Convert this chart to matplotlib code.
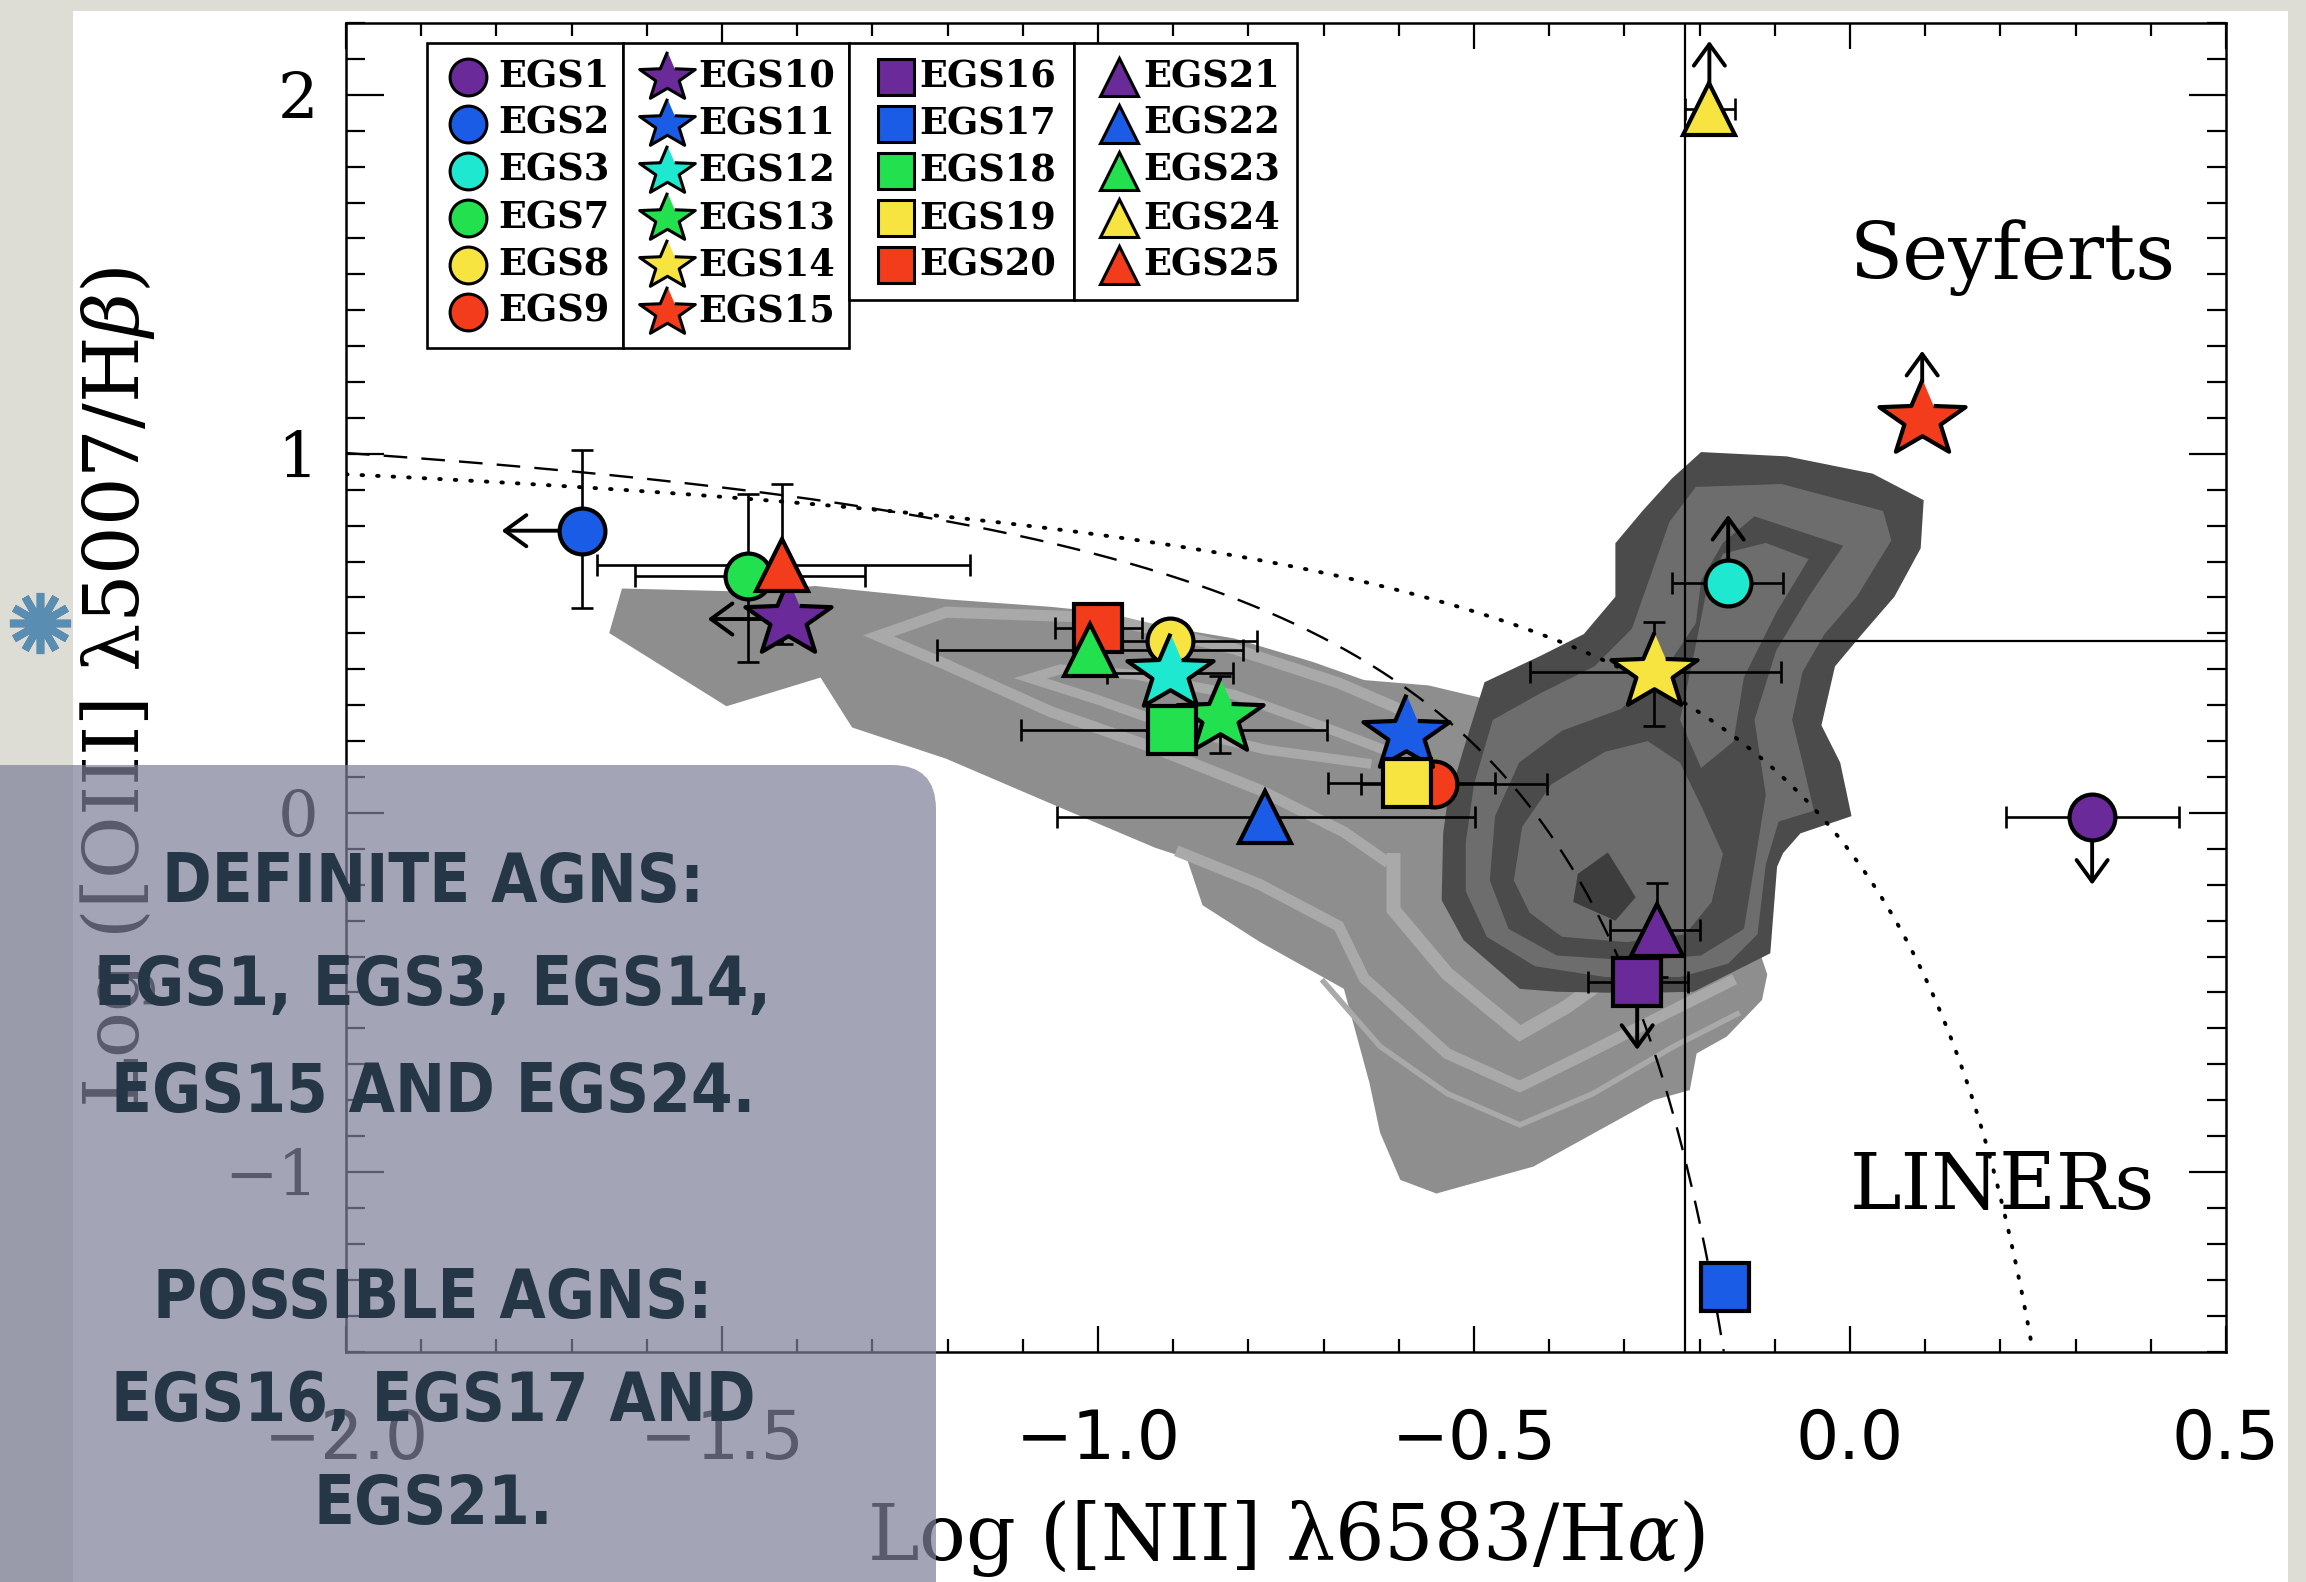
import numpy as np
import matplotlib
matplotlib.use('Agg')
import matplotlib.pyplot as plt
from matplotlib.patches import Rectangle, FancyBboxPatch
from matplotlib.ticker import MultipleLocator
from matplotlib import font_manager as fm
from matplotlib.textpath import TextPath

plt.rcParams['mathtext.fontset'] = 'dejavuserif'

# ---------------------------------------------------------------- data
PURPLE, BLUE, CYAN, GREEN, YELLOW, RED = ('#6a2a9a', '#1a5ce6', '#1ee8cf',
                                          '#22e04e', '#f7e440', '#f23c1c')

names = ['EGS1', 'EGS2', 'EGS3', 'EGS7', 'EGS8', 'EGS9',
         'EGS10', 'EGS11', 'EGS12', 'EGS13', 'EGS14', 'EGS15',
         'EGS16', 'EGS17', 'EGS18', 'EGS19', 'EGS20',
         'EGS21', 'EGS22', 'EGS23', 'EGS24', 'EGS25']
shapes = ['o'] * 6 + ['star'] * 6 + ['s'] * 5 + ['^'] * 5
colors = [PURPLE, BLUE, CYAN, GREEN, YELLOW, RED,
          PURPLE, BLUE, CYAN, GREEN, YELLOW, RED,
          PURPLE, BLUE, GREEN, YELLOW, RED,
          PURPLE, BLUE, GREEN, YELLOW, RED]

x_vals = [0.322, -1.686, -0.162, -1.465, -0.904, -0.553,
          -1.412, -0.590, -0.904, -0.838, -0.261, 0.096,
          -0.283, -0.166, -0.902, -0.589, -1.000,
          -0.257, -0.778, -1.010, -0.187, -1.420]
y_vals = [-0.010, 0.786, 0.640, 0.660, 0.480, 0.080,
          0.540, 0.220, 0.389, 0.268, 0.393, 1.097,
          -0.470, -1.320, 0.231, 0.083, 0.514,
          -0.326, -0.010, 0.455, 1.960, 0.690]
nan = np.nan
x_lo = [0.207, nan, -0.237, -1.616, -1.000, -0.650,
        nan, nan, -0.988, nan, -0.425, nan,
        -0.348, nan, -1.102, -0.694, -1.057,
        -0.319, -1.055, -1.214, -0.219, -1.666]
x_hi = [0.438, nan, -0.089, -1.310, -0.789, -0.403,
        nan, nan, -0.820, nan, -0.092, nan,
        -0.215, nan, -0.696, -0.472, -0.942,
        -0.199, -0.499, -0.807, -0.153, -1.170]
y_lo = [nan, 0.571, nan, 0.420, nan, nan,
        nan, nan, nan, 0.166, 0.242, nan,
        nan, nan, nan, nan, nan,
        -0.456, nan, nan, nan, 0.470]
y_hi = [nan, 1.010, nan, 0.889, nan, nan,
        nan, nan, nan, 0.380, 0.532, nan,
        nan, nan, nan, nan, nan,
        -0.196, nan, nan, nan, 0.917]
limits = ['down', 'left', 'up', None, None, None,
          'left', None, None, None, None, 'up',
          'down', 'down', None, None, None,
          None, None, None, 'up', None]

# classification lines
KAUFF_A, KAUFF_B, KAUFF_C = 0.61, 0.05, 1.30     # Kauffmann et al. 2003
KEWL_A, KEWL_B, KEWL_C = 0.61, 0.47, 1.19        # Kewley et al. 2001
AGN_SPLIT_X = -0.22
SEY_LINER_Y = 0.48

# SDSS density contours (polygons in data units)
SF0_X = [-1.650, -1.633, -1.480, -1.376, -1.202, -1.063, -0.993, -0.924, -0.819, -0.715,
         -0.646, -0.560, -0.450, -0.300, -0.150, -0.110, -0.117, -0.164, -0.204, -0.213,
         -0.261, -0.421, -0.550, -0.598, -0.625, -0.639, -0.673, -0.785, -0.861, -0.882,
         -0.924, -1.056, -1.202, -1.327, -1.369, -1.494]
SF0_Y = [0.501, 0.625, 0.617, 0.632, 0.595, 0.574, 0.559, 0.523, 0.486, 0.421,
         0.370, 0.355, 0.300, 0.100, -0.200, -0.450, -0.521, -0.623, -0.670, -0.772,
         -0.800, -0.985, -1.060, -1.022, -0.890, -0.752, -0.490, -0.359, -0.257, -0.126,
         -0.097, 0.020, 0.151, 0.238, 0.377, 0.297]
BAND_A_X = [-0.600, -0.680, -0.819, -0.993, -1.202, -1.292, -1.202, -1.063, -0.924, -0.785, -0.673, -0.620]
BAND_A_Y = [0.290, 0.362, 0.457, 0.544, 0.559, 0.493, 0.413, 0.282, 0.180, 0.064, -0.053, -0.130]
BAND_B_X = [-0.600, -0.700, -0.820, -0.950, -1.050, -1.090, -1.000, -0.887, -0.776, -0.643]
BAND_B_Y = [0.160, 0.240, 0.330, 0.385, 0.400, 0.375, 0.315, 0.231, 0.176, 0.138]
BAND_C_X = [-0.889, -0.785, -0.680, -0.646, -0.625, -0.536, -0.439, -0.350, -0.244, -0.160]
BAND_C_Y = [-0.111, -0.199, -0.315, -0.461, -0.500, -0.670, -0.762, -0.670, -0.558, -0.470]
BAND_D_X = [-0.700, -0.625, -0.536, -0.439, -0.341, -0.235, -0.150]
BAND_D_Y = [-0.470, -0.650, -0.781, -0.869, -0.781, -0.651, -0.560]
BAND_E_X = [-0.607, -0.607, -0.536, -0.439, -0.377, -0.330]
BAND_E_Y = [-0.131, -0.270, -0.447, -0.614, -0.540, -0.470]

AGN0_X = [-0.237, -0.198, -0.084, 0.030, 0.098, 0.094, 0.059, 0.016, -0.020, -0.038,
          -0.013, 0.002, -0.066, -0.089, -0.097, -0.106, -0.208, -0.290, -0.390, -0.439,
          -0.514, -0.543, -0.541, -0.536, -0.515, -0.486, -0.411, -0.354, -0.312, -0.312, -0.276]
AGN0_Y = [0.931, 1.005, 0.993, 0.945, 0.871, 0.737, 0.602, 0.498, 0.408, 0.244,
          0.140, -0.009, -0.057, -0.112, -0.150, -0.391, -0.498, -0.502, -0.498, -0.490,
          -0.354, -0.243, -0.057, 0.020, 0.170, 0.364, 0.438, 0.498, 0.602, 0.751, 0.841]
AGN1_X = [-0.205, -0.091, 0.044, 0.055, 0.009, -0.034, -0.063, -0.077, -0.063, -0.048,
          -0.095, -0.112, -0.123, -0.162, -0.226, -0.326, -0.419, -0.483, -0.511, -0.511,
          -0.500, -0.475, -0.411, -0.340, -0.290, -0.265, -0.240]
AGN1_Y = [0.908, 0.916, 0.841, 0.759, 0.602, 0.498, 0.393, 0.259, 0.140, 0.006,
          -0.024, -0.144, -0.338, -0.420, -0.457, -0.457, -0.427, -0.345, -0.218, -0.084,
          0.080, 0.259, 0.334, 0.408, 0.513, 0.662, 0.811]
AGN2_X = [-0.169, -0.127, -0.009, -0.055, -0.098, -0.127, -0.112, -0.127, -0.141, -0.198,
          -0.283, -0.390, -0.454, -0.479, -0.472, -0.440, -0.383, -0.305, -0.248, -0.205, -0.198]
AGN2_Y = [0.752, 0.826, 0.744, 0.602, 0.453, 0.259, 0.050, -0.144, -0.323, -0.397,
          -0.412, -0.397, -0.323, -0.188, -0.009, 0.140, 0.229, 0.289, 0.393, 0.528, 0.647]
AGN3_X = [-0.447, -0.436, -0.397, -0.326, -0.269, -0.226, -0.198, -0.169, -0.184, -0.219,
          -0.297, -0.383, -0.426]
AGN3_Y = [-0.188, -0.039, 0.080, 0.170, 0.200, 0.140, 0.020, -0.114, -0.248, -0.338,
          -0.360, -0.345, -0.278]
AGN_UP_X = [-0.169, -0.112, -0.055, -0.098, -0.141, -0.155, -0.198, -0.226, -0.205, -0.191]
AGN_UP_Y = [0.722, 0.752, 0.707, 0.558, 0.378, 0.199, 0.125, 0.259, 0.468, 0.617]
AGN4_X = [-0.322, -0.285, -0.312, -0.368, -0.362]
AGN4_Y = [-0.110, -0.235, -0.300, -0.248, -0.170]

XTICKS = [-2.0, -1.5, -1.0, -0.5, 0.0, 0.5]
XTICKLABELS = ['\u22122.0', '\u22121.5', '\u22121.0', '\u22120.5', '0.0', '0.5']
YTICKS = [-1, 0, 1, 2]
YTICKLABELS = ['\u22121', '0', '1', '2']
XLABEL = 'Log ([NII] \u03bb6583/H$\\alpha$)'
YLABEL = 'Log ([OIII] \u03bb5007/H$\\beta$)'

NOTE_LINES = ['DEFINITE AGNS:', 'EGS1, EGS3, EGS14,', 'EGS15 AND EGS24.',
              'POSSIBLE AGNS:', 'EGS16, EGS17 AND', 'EGS21.']


# ---------------------------------------------------------------- fonts
def _weight(f):
    try:
        return int(f.weight)
    except (TypeError, ValueError):
        return {'bold': 700, 'heavy': 800, 'black': 900, 'extra bold': 800,
                'semibold': 600, 'demibold': 600}.get(str(f.weight).lower(), 400)


def narrow_bold_font():
    best = None
    for f in fm.fontManager.ttflist:
        key = (f.name + ' ' + str(f.stretch) + ' ' + f.fname).lower()
        if not ('narrow' in key or 'condensed' in key):
            continue
        if str(f.style).lower() != 'normal':
            continue
        score = -abs(_weight(f) - 750)
        if best is None or score > best[0]:
            best = (score, f)
    if best is None:
        return fm.FontProperties(family=['Roboto', 'DejaVu Sans'], weight='bold')
    return fm.FontProperties(fname=best[1].fname)


NOTE_FP = narrow_bold_font()
_probe = NOTE_FP.copy()
_probe.set_size(60)
_w = TextPath((0, 0), NOTE_LINES[1], prop=_probe).get_extents().width * 100 / 72
NOTE_SIZE = min(63, 60 * 665 / _w)
NOTE_FP.set_size(NOTE_SIZE)

# ---------------------------------------------------------------- figure
W, H = 2306, 1582
fig = plt.figure(figsize=(W / 100, H / 100), dpi=100)
fig.patch.set_facecolor('#dddcd5')

bg = fig.add_axes([0, 0, 1, 1], zorder=0)
bg.set_xlim(0, W); bg.set_ylim(H, 0); bg.axis('off')
bg.add_patch(Rectangle((73, 11), 2288 - 73, H, facecolor='white', edgecolor='none'))

ax = fig.add_axes([346 / W, 1 - 1351.5 / H, 1880 / W, 1328.5 / H], zorder=1)
ax.set_facecolor('white')
ax.set_xlim(-2.0, 0.5)
ax.set_ylim(-1.5, 2.2)

SF_MID, SF_LIGHT = '#8e8e8e', '#a9a9a9'
AGN_DARK, AGN_MID, AGN_DEEP = '#4b4b4b', '#6d6d6d', '#3d3d3d'

ax.fill(SF0_X, SF0_Y, color=SF_MID, lw=0, zorder=1)
for bx, by, lw in [(BAND_A_X, BAND_A_Y, 8), (BAND_B_X, BAND_B_Y, 7),
                   (BAND_C_X, BAND_C_Y, 8), (BAND_D_X, BAND_D_Y, 4),
                   (BAND_E_X, BAND_E_Y, 10)]:
    ax.plot(bx, by, color=SF_LIGHT, lw=lw, solid_joinstyle='miter', zorder=1.1)
ax.fill(AGN0_X, AGN0_Y, color=AGN_DARK, lw=0, zorder=1.2)
ax.fill(AGN1_X, AGN1_Y, color=AGN_MID, lw=0, zorder=1.3)
ax.fill(AGN2_X, AGN2_Y, color=AGN_DARK, lw=0, zorder=1.4)
ax.fill(AGN3_X, AGN3_Y, color=AGN_MID, lw=0, zorder=1.5)
ax.fill(AGN_UP_X, AGN_UP_Y, color=AGN_MID, lw=0, zorder=1.5)
ax.fill(AGN4_X, AGN4_Y, color=AGN_DEEP, lw=0, zorder=1.6)

# classification lines
xk = np.linspace(-2.0, KAUFF_B + KAUFF_A / (-1.5 - KAUFF_C), 300)
ax.plot(xk, KAUFF_A / (xk - KAUFF_B) + KAUFF_C, color='k', lw=1.7,
        dashes=(10, 6), zorder=2)
xw = np.linspace(-2.0, KEWL_B + KEWL_A / (-1.5 - KEWL_C), 300)
ax.plot(xw, KEWL_A / (xw - KEWL_B) + KEWL_C, color='k', lw=2.8,
        linestyle=(0, (0.4, 3.6)), dash_capstyle='round', zorder=2)
ax.axvline(AGN_SPLIT_X, color='k', lw=1.6, zorder=2)
ax.plot([AGN_SPLIT_X, 0.5], [SEY_LINER_Y, SEY_LINER_Y], color='k', lw=1.6, zorder=2)

# marker definitions
_k = np.arange(10)
_ang = np.pi / 2 + _k * np.pi / 5
_rad = np.where(_k % 2 == 0, 1.0, 0.42)
STAR = list(zip(_rad * np.cos(_ang), 0.88 * _rad * np.sin(_ang)))
MARK = {'o': 'o', 's': 's', '^': '^', 'star': STAR}
SIZE = {'o': 33, 's': 35, '^': 38, 'star': 62}
LSIZE = {'o': 26.5, 's': 26.5, '^': 28, 'star': 40}
ARROW = {'up': (0, 0.19), 'down': (0, -0.19), 'left': (-0.107, 0)}
order_z = {'o': 5, 'star': 6, 's': 7, '^': 8}

for i in range(len(names)):
    x, y = x_vals[i], y_vals[i]
    xe = None if np.isnan(x_lo[i]) else [[x - x_lo[i]], [x_hi[i] - x]]
    ye = None if np.isnan(y_lo[i]) else [[y - y_lo[i]], [y_hi[i] - y]]
    if xe is not None or ye is not None:
        ax.errorbar([x], [y], xerr=xe, yerr=ye, fmt='none', ecolor='k',
                    elinewidth=1.9, capsize=8, capthick=1.9, zorder=3)
    if limits[i]:
        dx, dy = ARROW[limits[i]]
        ax.annotate('', xy=(x + dx, y + dy), xytext=(x, y),
                    arrowprops=dict(arrowstyle='->,head_length=0.55,head_width=0.4',
                                    lw=2.8, color='k', shrinkA=0, shrinkB=0,
                                    mutation_scale=28), zorder=3)
    ax.plot([x], [y], ls='none', marker=MARK[shapes[i]], ms=SIZE[shapes[i]],
            mfc=colors[i], mec='k', mew=3, zorder=order_z[shapes[i]] + i * 0.01)

# region labels
ax.text(0.0, 1.487, 'Seyferts', family='DejaVu Serif', fontsize=56,
        ha='left', va='baseline', zorder=9)
ax.text(0.0, -1.103, 'LINERs', family='DejaVu Serif', fontsize=56,
        ha='left', va='baseline', zorder=9)

# legend (four bordered columns)
LEG_X0 = [0.0431, 0.1473, 0.2676, 0.3872]
LEG_X1 = [0.1473, 0.2676, 0.3872, 0.5059]
LEG_TOP = 0.9849
LEG_BOT = [0.7553, 0.7553, 0.7914, 0.7914]
LEG_MX = [0.0649, 0.1707, 0.2924, 0.4112]
LEG_TX = [0.0809, 0.1872, 0.3048, 0.4239]
ROW_Y = [0.9594, 0.9240, 0.8886, 0.8532, 0.8178, 0.7825]
groups = ['o', 'star', 's', '^']
for c, g in enumerate(groups):
    ax.add_patch(Rectangle((LEG_X0[c], LEG_BOT[c]), LEG_X1[c] - LEG_X0[c],
                           LEG_TOP - LEG_BOT[c], transform=ax.transAxes,
                           facecolor='white', edgecolor='k', lw=1.9, zorder=10))
    idx = [i for i in range(len(names)) if shapes[i] == g]
    for r, i in enumerate(idx):
        ax.plot([LEG_MX[c]], [ROW_Y[r]], transform=ax.transAxes, ls='none',
                marker=MARK[g], ms=LSIZE[g], mfc=colors[i], mec='k', mew=2.2,
                zorder=11, clip_on=False)
        ax.text(LEG_TX[c], ROW_Y[r], names[i], transform=ax.transAxes,
                family='DejaVu Serif', fontweight='bold', fontsize=26.5,
                ha='left', va='center', zorder=11)

# axes styling
for s in ax.spines.values():
    s.set_linewidth(1.8)
ax.set_xticks(XTICKS)
ax.set_xticklabels(XTICKLABELS, family='DejaVu Sans', fontsize=49)
ax.set_yticks(YTICKS)
ax.set_yticklabels(YTICKLABELS, family='DejaVu Serif', fontsize=46)
ax.xaxis.set_minor_locator(MultipleLocator(0.1))
ax.yaxis.set_minor_locator(MultipleLocator(0.1))
ax.tick_params(which='both', direction='in', top=True, right=True, width=1.6)
ax.tick_params(axis='x', which='major', length=19, pad=40)
ax.tick_params(axis='x', which='minor', length=9.5)
ax.tick_params(axis='y', which='major', length=27, pad=20)
ax.tick_params(axis='y', which='minor', length=13.5)
ax.set_xlabel(XLABEL, family='DejaVu Serif', fontsize=56)
ax.set_ylabel(YLABEL, family='DejaVu Serif', fontsize=55)
ax.xaxis.set_label_coords(0.5, -0.110)
ax.yaxis.set_label_coords(-0.100, 0.5)

# slide overlay
ov = fig.add_axes([0, 0, 1, 1], zorder=3)
ov.set_xlim(0, W); ov.set_ylim(H, 0); ov.axis('off')
ov.patch.set_alpha(0)
ov.add_patch(FancyBboxPatch((-200, 765), 936 + 200, 1200,
                            boxstyle='round,pad=0,rounding_size=44',
                            facecolor='#7e8199', alpha=0.71, edgecolor='none'))
ov.plot([40], [623], marker=(12, 2, 0), ms=44, mew=5.5, color='#5a8db2', ls='none')
NOTE_BASE = [902, 1005, 1112, 1318, 1421, 1524]
for txt, yb in zip(NOTE_LINES, NOTE_BASE):
    ov.text(433, yb, txt, ha='center', va='baseline', color='#253746',
            fontproperties=NOTE_FP)

fig.savefig('out.png', dpi=100)
